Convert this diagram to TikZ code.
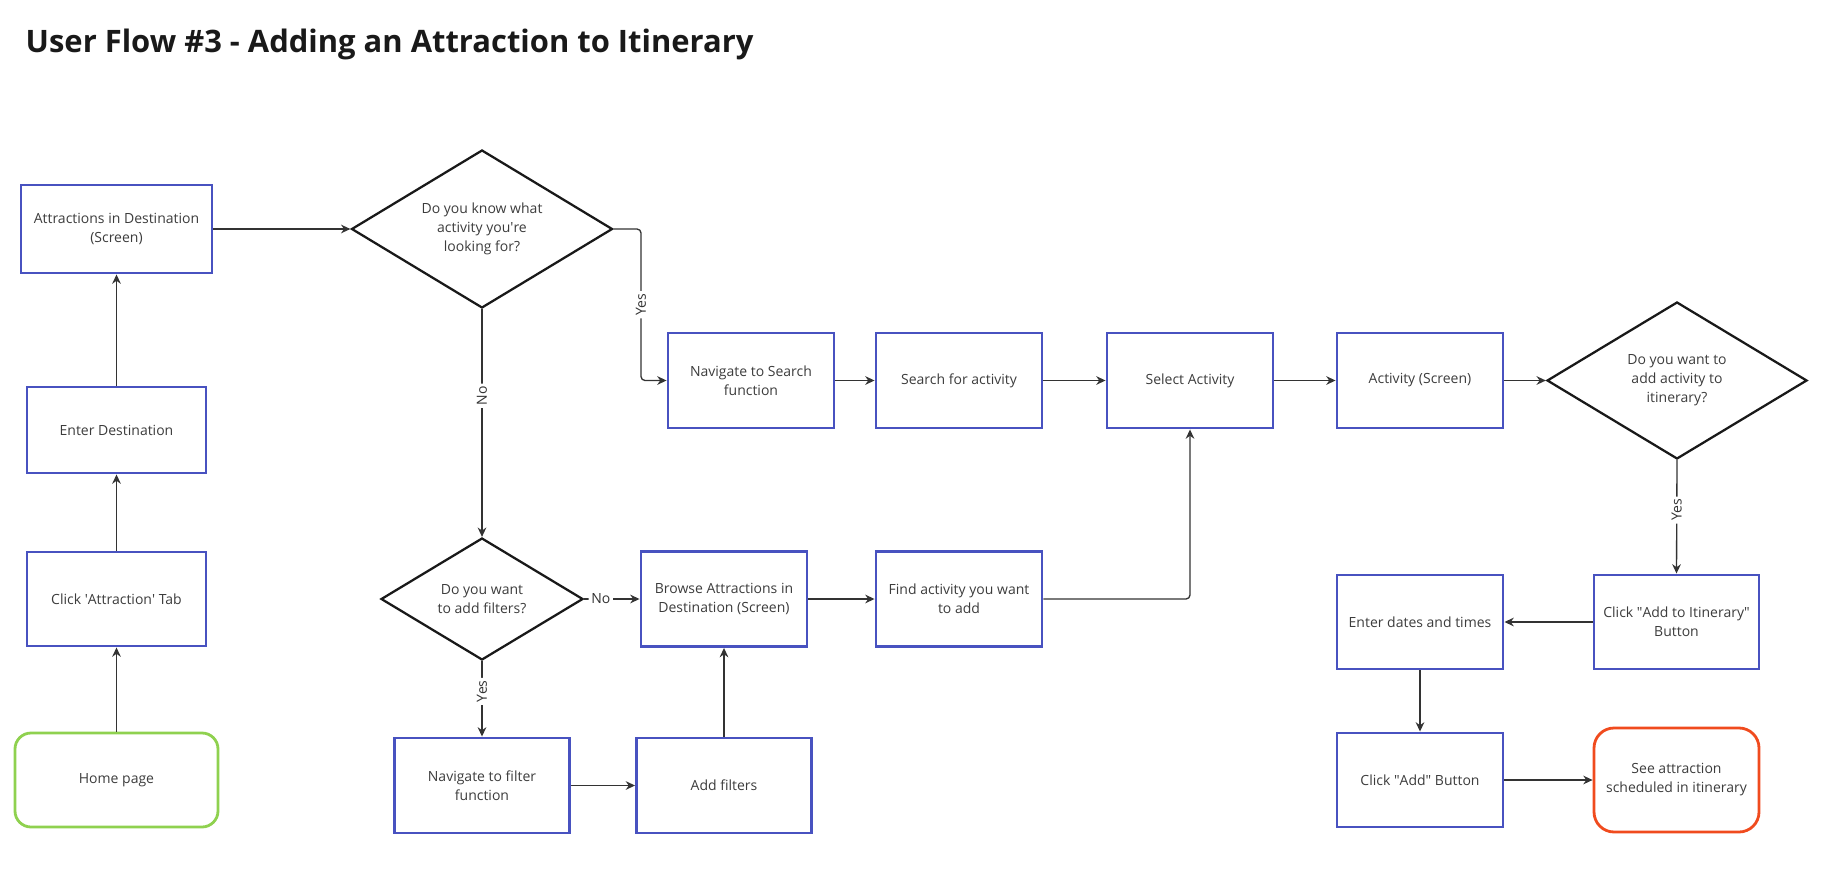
\documentclass[tikz,border=0pt]{standalone}
\usepackage{fontspec}
\setmainfont{Open Sans}
\usetikzlibrary{shapes.geometric,arrows.meta}

\definecolor{boxblue}{HTML}{4852C0}
\definecolor{startgreen}{HTML}{8FD14F}
\definecolor{endred}{HTML}{F04B1E}
\definecolor{ink}{HTML}{333333}
\definecolor{txt}{HTML}{3C3C3C}

\newcommand*{\boxw}{124.5pt}
\newcommand*{\boxh}{71.25pt}
\newcommand*{\sq}{\textquotesingle}
\newcommand*{\dq}{\textquotedbl}

\begin{document}
\begin{tikzpicture}
[
	x=0.75pt, y=-0.75pt,
	every node/.style={text=txt,font=\fontsize{10.5}{14.25}\selectfont,align=center},
	screen/.style={rectangle,draw=boxblue,line width=2.2pt,inner sep=0pt,minimum width=\boxw,minimum height=\boxh},
	decision/.style={diamond,draw=black!90,line width=1.7pt,inner sep=0pt,aspect=1.65},
	terminal/.style={rectangle,rounded corners=12pt,line width=2.1pt,inner sep=0pt},
	flow/.style={draw=ink,line width=1pt,-{Stealth[length=7pt,width=6.5pt]},rounded corners=3pt},
	lbl/.style={fill=white,inner sep=2pt,text=ink}
]

	\useasboundingbox (0,0) rectangle (1824,874);

	% title
	\node[anchor=base west,text=black!90,font=\bfseries\fontsize{23.2}{27}\selectfont] (title) at (21,53)
		{User Flow \#3 - Adding an Attraction to Itinerary};

	% left column
	\node[terminal,draw=startgreen,minimum width=152.25pt,minimum height=70.5pt] (home) at (116.5,780) {Home page};
	\node[screen,minimum width=134.25pt,minimum height=70.5pt] (tab) at (116.5,599) {Click \sq Attraction\sq{} Tab};
	\node[screen,minimum width=134.25pt,minimum height=64.5pt] (dest) at (116.5,430) {Enter Destination};
	\node[screen,minimum width=143.25pt,minimum height=66pt] (attr) at (116.5,229) {Attractions in Destination\\(Screen)};

	% decisions
	\node[decision,minimum width=195.75pt,minimum height=118.5pt] (know) at (482,229) {Do you know what\\activity you\sq re\\looking for?};
	\node[decision,minimum width=151.5pt,minimum height=91.5pt] (filt) at (482,599) {Do you want\\to add filters?};
	\node[decision,minimum width=195pt,minimum height=117.75pt] (addq) at (1677,380.5) {Do you want to\\add activity to\\itinerary?};

	% search path
	\node[screen] (navsearch) at (751,380.5) {Navigate to Search\\function};
	\node[screen] (search) at (959,380.5) {Search for activity};
	\node[screen] (select) at (1190,380.5) {Select Activity};
	\node[screen] (activity) at (1420,380.5) {Activity (Screen)};

	% browse path
	\node[screen] (browse) at (724,599) {Browse Attractions in\\Destination (Screen)};
	\node[screen] (find) at (959,599) {Find activity you want\\to add};
	\node[screen,minimum width=131.25pt] (navfilter) at (482,785.5) {Navigate to filter\\function};
	\node[screen,minimum width=131.25pt] (addfilter) at (724,785.5) {Add filters};

	% itinerary
	\node[screen,minimum width=123.75pt,minimum height=70.5pt] (clickitin) at (1676.5,622) {Click \dq Add to Itinerary\dq\\Button};
	\node[screen,minimum height=70.5pt] (dates) at (1420,622) {Enter dates and times};
	\node[screen,minimum height=70.5pt] (clickadd) at (1420,780) {Click \dq Add\dq{} Button};
	\node[terminal,draw=endred,rounded corners=15pt,minimum width=123.75pt,minimum height=78pt] (seen) at (1676.5,780) {See attraction\\scheduled in itinerary};

	% connectors
	\draw[flow] (home) -- (tab);
	\draw[flow] (tab) -- (dest);
	\draw[flow] (dest) -- (attr);
	\draw[flow] (attr) -- (know);

	\coordinate (yesturn) at (641,229);
	\draw[flow] (know.east) -- (yesturn) |- node[pos=0.25,lbl,rotate=90] {Yes} (navsearch.west);
	\draw[flow] (navsearch) -- (search);
	\draw[flow] (search) -- (select);
	\draw[flow] (select) -- (activity);
	\draw[flow] (activity) -- (addq);

	\draw[flow] (know.south) -- node[pos=0.38,lbl,rotate=90] {No} (filt.north);
	\draw[flow] (filt.east) -- node[pos=0.3,lbl] {No} (browse.west);
	\draw[flow] (filt.south) -- node[pos=0.4,lbl,rotate=90] {Yes} (navfilter.north);
	\draw[flow] (navfilter) -- (addfilter);
	\draw[flow] (addfilter) -- (browse);
	\draw[flow] (browse) -- (find);
	\draw[flow] (find.east) -| (select.south);

	\draw[flow] (addq.south) -- node[pos=0.44,lbl,rotate=90] {Yes} (clickitin.north);
	\draw[flow] (clickitin) -- (dates);
	\draw[flow] (dates) -- (clickadd);
	\draw[flow] (clickadd) -- (seen);

\end{tikzpicture}
\end{document}
